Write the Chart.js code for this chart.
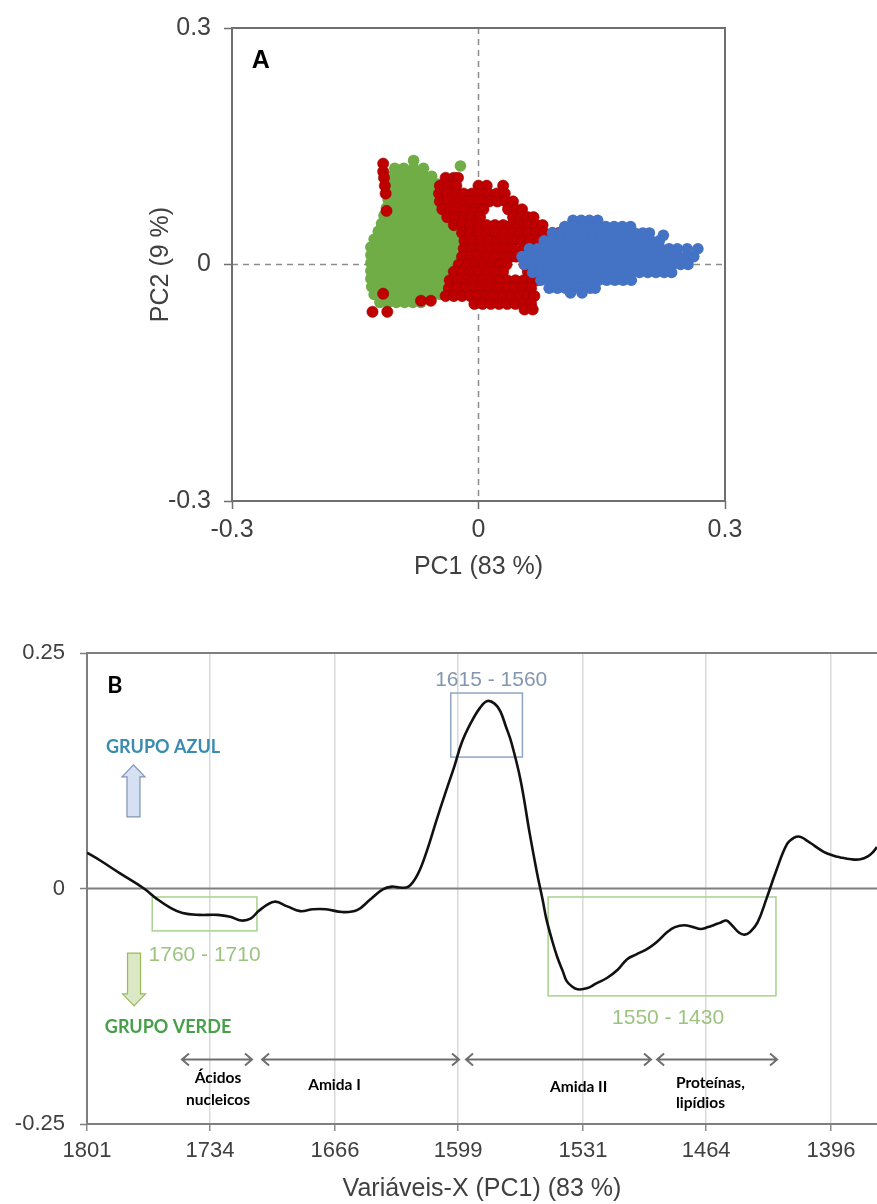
<!DOCTYPE html>
<html>
<head>
<meta charset="utf-8">
<script src="https://cdn.jsdelivr.net/npm/chart.js@4.4.1/dist/chart.umd.min.js"></script>
<style>
    html, body { margin: 0; padding: 0; background: #fff; }
    canvas { display: block; }
</style>
</head>
<body>
<canvas id="chartA" width="877" height="600"></canvas>
<canvas id="chartB" width="877" height="604"></canvas>
<script>
// ---------- Panel A: PCA scores (PC2 row -> PC1 values seen on that row) ----------
const greenRows = [
    [0.132, [-0.079]],
    [0.125, [-0.022]],
    [0.122, [-0.102, -0.091, -0.079, -0.067]],
    [0.112, [-0.106, -0.096, -0.086, -0.076, -0.066, -0.057]],
    [0.102, [-0.107, -0.097, -0.087, -0.077, -0.067, -0.057, -0.050]],
    [0.092, [-0.109, -0.099, -0.089, -0.079, -0.069, -0.059, -0.050]],
    [0.082, [-0.110, -0.100, -0.090, -0.080, -0.070, -0.060, -0.050, -0.045]],
    [0.072, [-0.112, -0.102, -0.092, -0.082, -0.072, -0.062, -0.052, -0.043, -0.036, -0.017]],
    [0.062, [-0.115, -0.105, -0.095, -0.085, -0.075, -0.065, -0.055, -0.045, -0.035, -0.027]],
    [0.054, [-0.017, -0.004]],
    [0.052, [-0.118, -0.108, -0.098, -0.088, -0.078, -0.068, -0.058, -0.048, -0.038, -0.028, -0.020]],
    [0.042, [-0.122, -0.112, -0.102, -0.092, -0.082, -0.072, -0.062, -0.052, -0.042, -0.032, -0.022, -0.015]],
    [0.032, [-0.127, -0.117, -0.107, -0.097, -0.087, -0.077, -0.067, -0.057, -0.047, -0.037, -0.027, -0.016]],
    [0.022, [-0.131, -0.121, -0.111, -0.101, -0.091, -0.081, -0.071, -0.061, -0.051, -0.041, -0.031, -0.019]],
    [0.012, [-0.131, -0.121, -0.111, -0.101, -0.091, -0.081, -0.071, -0.061, -0.051, -0.041, -0.031, -0.021]],
    [0.002, [-0.131, -0.121, -0.111, -0.101, -0.091, -0.081, -0.071, -0.061, -0.051, -0.041, -0.031, -0.024]],
    [-0.008, [-0.131, -0.121, -0.111, -0.101, -0.091, -0.081, -0.071, -0.061, -0.051, -0.041, -0.030]],
    [-0.018, [-0.131, -0.121, -0.111, -0.101, -0.091, -0.081, -0.071, -0.061, -0.051, -0.041, -0.034]],
    [-0.026, [-0.017, 0.009, 0.033]],
    [-0.028, [-0.130, -0.120, -0.110, -0.100, -0.090, -0.080, -0.070, -0.060, -0.050, -0.040, -0.035]],
    [-0.038, [-0.127, -0.117, -0.107, -0.097, -0.087, -0.077, -0.067, -0.057, -0.047]],
    [-0.048, [-0.120, -0.110, -0.100, -0.090, -0.080, -0.070]]
];

const redRows = [
    [0.128, [-0.116]],
    [0.118, [-0.116]],
    [0.110, [-0.115, -0.040, -0.030, -0.025]],
    [0.100, [-0.114, -0.047, -0.037, -0.027, 0.000, 0.010, 0.030]],
    [0.090, [-0.113, -0.048, -0.038, -0.028, -0.018, -0.008, 0.002, 0.012, 0.022, 0.032]],
    [0.080, [-0.047, -0.037, -0.027, -0.017, -0.007, 0.003, 0.013, 0.023, 0.033, 0.042]],
    [0.070, [-0.044, -0.034, -0.024, -0.014, -0.004, 0.006, 0.036, 0.045, 0.053]],
    [0.068, [-0.112]],
    [0.060, [-0.038, -0.028, -0.018, -0.008, 0.002, 0.042, 0.052, 0.060, 0.067]],
    [0.050, [-0.030, -0.020, -0.010, 0.000, 0.010, 0.020, 0.030, 0.040, 0.050, 0.060, 0.070, 0.078]],
    [0.040, [-0.020, -0.010, 0.000, 0.010, 0.020, 0.030, 0.040, 0.050, 0.060, 0.070, 0.080, 0.090, 0.098]],
    [0.030, [-0.017, -0.007, 0.003, 0.013, 0.023, 0.033, 0.043, 0.053, 0.063, 0.072, 0.106, 0.116]],
    [0.020, [-0.018, -0.008, 0.002, 0.012, 0.022, 0.032, 0.042, 0.054]],
    [0.010, [-0.020, -0.010, 0.000, 0.010, 0.020, 0.030, 0.040, 0.046]],
    [0.000, [-0.024, -0.014, -0.004, 0.006, 0.016, 0.026, 0.034, 0.056, 0.066, 0.076, 0.086, 0.096, 0.106, 0.114]],
    [-0.009, [-0.030, -0.020, -0.010, 0.000, 0.010, 0.020, 0.030, 0.060, 0.070, 0.080, 0.090, 0.100, 0.110]],
    [-0.020, [-0.035, -0.025, -0.015, -0.005, 0.005, 0.015, 0.025, 0.035, 0.045, 0.055, 0.065, 0.072]],
    [-0.030, [-0.036, -0.026, -0.016, -0.006, 0.004, 0.014, 0.024, 0.034, 0.044, 0.054, 0.064]],
    [-0.037, [-0.116]],
    [-0.040, [-0.040, -0.030, -0.020, -0.010, 0.000, 0.010, 0.020, 0.030, 0.040, 0.050, 0.060, 0.068]],
    [-0.046, [-0.070, -0.058]],
    [-0.050, [-0.005, 0.005, 0.015, 0.025, 0.035, 0.045, 0.055, 0.064]],
    [-0.057, [0.056, 0.066]],
    [-0.060, [-0.129, -0.111]]
];

const blueRows = [
    [0.056, [0.115, 0.125, 0.135, 0.145]],
    [0.048, [0.105, 0.115, 0.125, 0.135, 0.145, 0.155, 0.165, 0.175, 0.185]],
    [0.040, [0.090, 0.100, 0.110, 0.120, 0.130, 0.140, 0.150, 0.160, 0.170, 0.180, 0.190, 0.200, 0.208]],
    [0.037, [0.225]],
    [0.030, [0.080, 0.090, 0.100, 0.110, 0.120, 0.130, 0.140, 0.150, 0.160, 0.170, 0.180, 0.190, 0.200, 0.210, 0.220]],
    [0.020, [0.062, 0.072, 0.082, 0.092, 0.102, 0.112, 0.122, 0.132, 0.142, 0.152, 0.162, 0.172, 0.182, 0.192, 0.202, 0.212, 0.222, 0.232, 0.242, 0.254, 0.267]],
    [0.010, [0.053, 0.063, 0.073, 0.083, 0.093, 0.103, 0.113, 0.123, 0.133, 0.143, 0.153, 0.163, 0.173, 0.183, 0.193, 0.203, 0.213, 0.223, 0.233, 0.243, 0.253, 0.262]],
    [0.000, [0.056, 0.066, 0.076, 0.086, 0.096, 0.106, 0.116, 0.126, 0.136, 0.146, 0.156, 0.166, 0.176, 0.186, 0.196, 0.206, 0.216, 0.226, 0.236, 0.246, 0.255]],
    [-0.010, [0.066, 0.076, 0.086, 0.096, 0.106, 0.116, 0.126, 0.136, 0.146, 0.156, 0.166, 0.176, 0.186, 0.196, 0.206, 0.216, 0.226, 0.235]],
    [-0.020, [0.076, 0.086, 0.096, 0.106, 0.116, 0.126, 0.136, 0.146, 0.156, 0.166, 0.176, 0.186]],
    [-0.030, [0.086, 0.096, 0.106, 0.116, 0.126, 0.136, 0.142]],
    [-0.036, [0.112, 0.126]]
];

const ticksA = [-0.3, 0, 0.3];
const panelA = { label: 'A', x: -0.265, y: 0.2575 };

// ---------- Panel B: PC1 loadings vs wavenumber ----------
const wavenumbers = [
    1801, 1794, 1783, 1770, 1763, 1756, 1749, 1740, 1730, 1723, 1717, 1712, 1707, 1699, 1692,
    1685, 1678, 1671, 1662, 1654, 1647, 1640, 1635, 1631, 1626, 1621, 1616, 1611, 1606, 1601,
    1597, 1592, 1587, 1583, 1579, 1576, 1573, 1570, 1565, 1560, 1556, 1553, 1551, 1548, 1545,
    1542, 1540, 1537, 1534, 1529, 1524, 1518, 1512, 1507, 1502, 1496, 1491, 1485, 1481, 1476,
    1471, 1467, 1463, 1460, 1456, 1453, 1450, 1446, 1443, 1440, 1436, 1431, 1426, 1420, 1416,
    1413, 1410, 1407, 1400, 1395, 1391, 1385, 1380, 1376, 1373, 1371
];
const pc1Loadings = [
    0.038, 0.030, 0.016, 0.000, -0.011, -0.020, -0.026, -0.028, -0.028, -0.030, -0.034, -0.032, -0.023, -0.014, -0.019,
    -0.024, -0.022, -0.022, -0.025, -0.023, -0.012, -0.001, 0.002, 0.001, 0.002, 0.015, 0.040, 0.071, 0.101, 0.130,
    0.155, 0.176, 0.192, 0.199, 0.196, 0.188, 0.172, 0.155, 0.115, 0.058, 0.016, -0.012, -0.032, -0.054, -0.073,
    -0.088, -0.098, -0.104, -0.107, -0.106, -0.101, -0.095, -0.086, -0.075, -0.070, -0.064, -0.057, -0.046, -0.041, -0.039,
    -0.041, -0.043, -0.041, -0.039, -0.036, -0.034, -0.039, -0.047, -0.049, -0.046, -0.036, -0.010, 0.018, 0.047, 0.054,
    0.055, 0.052, 0.048, 0.039, 0.035, 0.033, 0.031, 0.031, 0.034, 0.039, 0.044
];
const xTicksB = [1801, 1734, 1666, 1599, 1531, 1464, 1396];
const yTicksB = [-0.25, 0, 0.25];

// range boxes: [from, to, top, bottom, colour]
const rangeBoxes = [
    [1603, 1564, 0.2075, 0.1395, '#8fa5c4'],
    [1765.5, 1708.5, -0.009, -0.045, '#a9d18e'],
    [1550, 1426, -0.009, -0.114, '#a9d18e']
];
const rangeLabels = [
    ['1615 - 1560', 1581, 0.221, '#8497b0'],
    ['1760 - 1710', 1737, -0.0706, '#9cc47f'],
    ['1550 - 1430', 1484.7, -0.1375, '#9cc47f']
];
// spectral regions: [from, to] at bracketY, and their labels
const regionSpans = [[1749.3, 1711.2], [1705.7, 1598.5], [1594.7, 1494], [1490.7, 1425.4]];
const bracketY = -0.1816;
const regionLabels = [
    ['Ácidos', 1729.7, -0.201, 'center'],
    ['nucleicos', 1729.7, -0.2245, 'center'],
    ['Amida I', 1666.3, -0.2086, 'center'],
    ['Amida II', 1533.4, -0.2107, 'center'],
    ['Proteínas,', 1480.4, -0.2065, 'left'],
    ['lipídios', 1480.4, -0.2278, 'left']
];
const groupLabels = [
    ['GRUPO AZUL', 1759.6, 0.150, '#3a8bb0'],
    ['GRUPO VERDE', 1756.9, -0.147, '#46a04a']
];
// block arrows: [x, tail, head, fill, outline]
const groupArrows = [
    [1775.7, 0.0761, 0.1313, '#d5e0f2', '#7f93b5'],
    [1775.4, -0.0685, -0.1247, '#dbe8c6', '#9bbb59']
];
const panelB = { label: 'B', x: 1785.8, y: 0.215 };

const FONT = '"Liberation Sans", Arial, sans-serif';
const LABEL = 'Lato, "Open Sans", sans-serif';
const TEXT = '#404040';

Chart.defaults.font.family = FONT;

const toPoints = rows => rows.flatMap(([y, xs]) => xs.map(x => ({ x, y })));

const frameA = {
    id: 'frameA',
    beforeDatasetsDraw(chart) {
        const { ctx, chartArea: a, scales: { x, y } } = chart;
        const x0 = x.getPixelForValue(0), y0 = y.getPixelForValue(0);
        ctx.save();
        ctx.strokeStyle = '#8c8c8c';
        ctx.lineWidth = 1.5;
        ctx.setLineDash([6, 5]);
        ctx.beginPath();
        ctx.moveTo(x0, a.top); ctx.lineTo(x0, a.bottom);
        ctx.moveTo(a.left, y0); ctx.lineTo(a.right, y0);
        ctx.stroke();
        ctx.setLineDash([]);
        ctx.strokeStyle = '#6f6f6f';
        ctx.lineWidth = 2;
        ctx.strokeRect(a.left, a.top, a.width, a.height);
        ctx.font = 'bold 25px ' + FONT;
        ctx.fillStyle = '#000';
        ctx.textAlign = 'center';
        ctx.textBaseline = 'middle';
        ctx.fillText(panelA.label, x.getPixelForValue(panelA.x), y.getPixelForValue(panelA.y));
        ctx.restore();
    }
};

function blockArrow(ctx, cx, yTail, yHead, fill, stroke) {
    const dir = Math.sign(yHead - yTail);
    const neck = yHead - dir * 12;
    ctx.beginPath();
    ctx.moveTo(cx - 6.5, yTail);
    ctx.lineTo(cx - 6.5, neck);
    ctx.lineTo(cx - 11.5, neck);
    ctx.lineTo(cx, yHead);
    ctx.lineTo(cx + 11.5, neck);
    ctx.lineTo(cx + 6.5, neck);
    ctx.lineTo(cx + 6.5, yTail);
    ctx.closePath();
    ctx.fillStyle = fill;
    ctx.fill();
    ctx.strokeStyle = stroke;
    ctx.lineWidth = 1.2;
    ctx.stroke();
}

function doubleArrow(ctx, x1, x2, py) {
    ctx.beginPath();
    ctx.moveTo(x1, py); ctx.lineTo(x2, py);
    ctx.moveTo(x1 + 7, py - 6); ctx.lineTo(x1, py); ctx.lineTo(x1 + 7, py + 6);
    ctx.moveTo(x2 - 7, py - 6); ctx.lineTo(x2, py); ctx.lineTo(x2 - 7, py + 6);
    ctx.stroke();
}

const annotB = {
    id: 'annotB',
    beforeDatasetsDraw(chart) {
        const { ctx, chartArea: a, scales: { x, y } } = chart;
        ctx.save();
        ctx.strokeStyle = '#7f7f7f';
        ctx.lineWidth = 2;
        const y0 = y.getPixelForValue(0);
        ctx.beginPath();
        ctx.moveTo(a.left, y0); ctx.lineTo(a.right, y0);
        ctx.moveTo(a.left, a.top); ctx.lineTo(a.right, a.top);
        ctx.stroke();
        ctx.lineWidth = 1.5;
        rangeBoxes.forEach(([x1, x2, y1, y2, c]) => {
            const px1 = x.getPixelForValue(x1), px2 = x.getPixelForValue(x2);
            const py1 = y.getPixelForValue(y1), py2 = y.getPixelForValue(y2);
            ctx.strokeStyle = c;
            ctx.strokeRect(px1, py1, px2 - px1, py2 - py1);
        });
        ctx.restore();
    },
    afterDatasetsDraw(chart) {
        const { ctx, scales: { x, y } } = chart;
        ctx.save();
        ctx.textBaseline = 'middle';
        ctx.textAlign = 'center';

        ctx.font = 'bold 23px ' + LABEL;
        ctx.fillStyle = '#000';
        ctx.fillText(panelB.label, x.getPixelForValue(panelB.x), y.getPixelForValue(panelB.y));

        ctx.font = '21px ' + FONT;
        rangeLabels.forEach(([t, vx, vy, c]) => {
            ctx.fillStyle = c;
            ctx.fillText(t, x.getPixelForValue(vx), y.getPixelForValue(vy));
        });

        ctx.font = 'bold 18px ' + LABEL;
        groupLabels.forEach(([t, vx, vy, c]) => {
            ctx.fillStyle = c;
            ctx.fillText(t, x.getPixelForValue(vx), y.getPixelForValue(vy));
        });

        groupArrows.forEach(([vx, t, h, fill, stroke]) => {
            blockArrow(ctx, x.getPixelForValue(vx), y.getPixelForValue(t), y.getPixelForValue(h), fill, stroke);
        });

        ctx.strokeStyle = '#6f6f6f';
        ctx.lineWidth = 2;
        const py = y.getPixelForValue(bracketY);
        regionSpans.forEach(([a, b]) => doubleArrow(ctx, x.getPixelForValue(a), x.getPixelForValue(b), py));

        ctx.font = 'bold 15.5px ' + LABEL;
        ctx.fillStyle = '#000';
        regionLabels.forEach(([t, vx, vy, align]) => {
            ctx.textAlign = align;
            ctx.fillText(t, x.getPixelForValue(vx), y.getPixelForValue(vy));
        });
        ctx.restore();
    }
};

new Chart(document.getElementById('chartA'), {
    type: 'scatter',
    data: {
        datasets: [
            { data: toPoints(blueRows), backgroundColor: '#4472c4', borderWidth: 0, pointRadius: 5.8 },
            { data: toPoints(redRows), backgroundColor: '#c00000', borderColor: '#9a0000', borderWidth: 0.6, pointRadius: 5.6 },
            { data: toPoints(greenRows), backgroundColor: '#70ad47', borderWidth: 0, pointRadius: 5.8 }
        ]
    },
    options: {
        responsive: false,
        animation: false,
        events: [],
        layout: { padding: { left: 146, right: 152, top: 21, bottom: 0 } },
        plugins: { legend: { display: false }, tooltip: { enabled: false } },
        scales: {
            x: {
                type: 'linear', min: -0.3, max: 0.3,
                afterBuildTicks: axis => { axis.ticks = ticksA.map(v => ({ value: v })); },
                afterFit: axis => { axis.height = 99; },
                grid: { drawOnChartArea: false, drawTicks: true, tickLength: 8, tickColor: '#6f6f6f', tickWidth: 1.5 },
                border: { display: false },
                ticks: { font: { size: 25 }, color: TEXT, padding: 6, maxRotation: 0, callback: v => v === 0 ? '0' : v.toFixed(1) },
                title: { display: true, text: 'PC1 (83 %)', font: { size: 25 }, color: TEXT, padding: { top: 0, bottom: 18 } }
            },
            y: {
                type: 'linear', min: -0.3, max: 0.3,
                afterBuildTicks: axis => { axis.ticks = ticksA.map(v => ({ value: v })); },
                afterFit: axis => { axis.width = 86; },
                grid: { drawOnChartArea: false, drawTicks: true, tickLength: 8, tickColor: '#6f6f6f', tickWidth: 1.5 },
                border: { display: false },
                ticks: { font: { size: 25 }, color: TEXT, padding: 13, callback: v => v === 0 ? '0' : v.toFixed(1) },
                title: { display: true, text: 'PC2 (9 %)', font: { size: 25 }, color: TEXT, padding: { top: 0, bottom: 0 } }
            }
        }
    },
    plugins: [frameA]
});

new Chart(document.getElementById('chartB'), {
    type: 'line',
    data: {
        datasets: [{
            data: wavenumbers.map((w, i) => ({ x: w, y: pc1Loadings[i] })),
            borderColor: '#111',
            borderWidth: 2.6,
            pointRadius: 0,
            tension: 0.4,
            fill: false
        }]
    },
    options: {
        responsive: false,
        animation: false,
        events: [],
        layout: { padding: { left: 0, right: 0, top: 53, bottom: 0 } },
        plugins: { legend: { display: false }, tooltip: { enabled: false } },
        scales: {
            x: {
                type: 'linear', min: 1371, max: 1801, reverse: true,
                afterBuildTicks: axis => { axis.ticks = xTicksB.map(v => ({ value: v })); },
                afterFit: axis => { axis.height = 80; },
                grid: { color: '#d9d9d9', lineWidth: 1.5, drawTicks: true, tickLength: 7, tickColor: '#8c8c8c', tickWidth: 1.5 },
                border: { display: true, color: '#7f7f7f', width: 2 },
                ticks: { font: { size: 22 }, color: TEXT, padding: 7, maxRotation: 0, autoSkip: false, callback: v => String(v) },
                title: { display: true, text: 'Variáveis-X (PC1) (83 %)', font: { size: 25 }, color: TEXT, padding: { top: 0, bottom: 0 } }
            },
            y: {
                type: 'linear', min: -0.25, max: 0.25,
                afterBuildTicks: axis => { axis.ticks = yTicksB.map(v => ({ value: v })); },
                afterFit: axis => { axis.width = 87; },
                grid: { drawOnChartArea: false, drawTicks: true, tickLength: 7, tickColor: '#7f7f7f', tickWidth: 1.5 },
                border: { display: true, color: '#7f7f7f', width: 2 },
                ticks: { font: { size: 22 }, color: TEXT, padding: 15, callback: v => v === 0 ? '0' : v.toFixed(2) }
            }
        }
    },
    plugins: [annotB]
});
</script>
</body>
</html>
